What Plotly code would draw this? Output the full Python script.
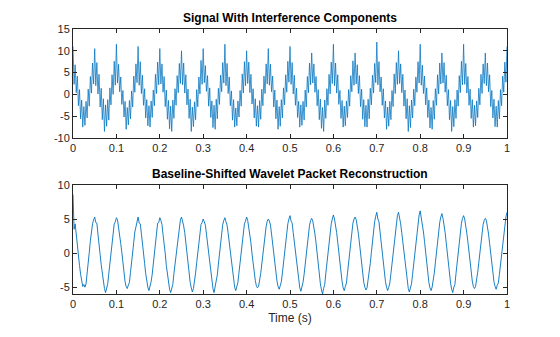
import numpy as np
import plotly.graph_objects as go

# ---- data ----
fs = 400  # samples per second (estimated)
title_top = "Signal With Interference Components"
title_bottom = "Baseline-Shifted Wavelet Packet Reconstruction"
x_label = "Time (s)"
x_ticks = [0, 0.1, 0.2, 0.3, 0.4, 0.5, 0.6, 0.7, 0.8, 0.9, 1]
x_ticklabels = ["0", "0.1", "0.2", "0.3", "0.4", "0.5", "0.6", "0.7", "0.8", "0.9", "1"]
y_ticks_top = [-10, -5, 0, 5, 10, 15]
y_ticks_bottom = [-5, 0, 5, 10]

# noisy signal, one row per 20 Hz cycle (20 samples each), plus final sample
noisy_cycles = [
    [11.0, 2.3, 6.8, 0.4, 4.2, -2.6, 1.1, -5.6, -1.3, -7.5, -2.8, -7.1, -1.6, -5.4, 1.2, -2.7, 4.1, 0.3, 7.2, 2.4],
    [10.5, 2.0, 7.3, 0.1, 4.6, -2.9, 1.4, -5.8, -1.0, -8.5, -2.4, -7.3, -1.2, -5.9, 1.5, -2.4, 4.5, 0.0, 7.6, 2.1],
    [11.5, 2.6, 6.9, 0.6, 4.0, -2.3, 0.9, -5.2, -1.6, -8.0, -3.0, -7.0, -1.4, -5.6, 0.8, -2.9, 4.2, 0.5, 7.0, 2.7],
    [11.0, 2.1, 7.5, 0.2, 4.4, -2.5, 1.3, -5.4, -1.2, -7.2, -2.6, -7.5, -1.5, -5.3, 1.0, -2.6, 4.6, 0.2, 7.4, 2.2],
    [10.5, 2.4, 7.0, 0.5, 4.1, -2.8, 1.0, -5.7, -1.4, -7.9, -2.7, -8.5, -1.3, -5.5, 1.3, -2.5, 4.3, 0.4, 7.1, 2.5],
    [10.0, 2.2, 7.2, 0.3, 4.5, -2.4, 1.2, -5.5, -1.1, -8.5, -2.9, -7.4, -1.7, -5.8, 1.1, -2.8, 4.0, 0.1, 7.8, 2.3],
    [10.5, 2.7, 6.6, 0.7, 4.3, -2.7, 1.5, -5.3, -1.5, -7.6, -2.5, -8.0, -1.1, -5.6, 1.4, -2.3, 4.4, 0.6, 7.3, 2.6],
    [11.5, 2.0, 7.1, 0.2, 4.0, -2.6, 0.8, -5.9, -1.2, -7.5, -3.1, -7.2, -1.5, -5.2, 0.9, -2.7, 4.7, 0.3, 7.5, 2.0],
    [10.0, 2.5, 7.4, 0.4, 4.6, -2.2, 1.3, -5.4, -1.0, -7.3, -2.6, -7.5, -1.4, -5.7, 1.2, -2.6, 4.2, 0.2, 7.0, 2.4],
    [10.5, 2.1, 6.9, 0.6, 4.2, -2.9, 1.0, -5.6, -1.3, -8.0, -2.8, -7.3, -1.2, -5.4, 1.5, -2.4, 4.5, 0.5, 7.6, 2.8],
    [11.0, 2.3, 7.3, 0.1, 4.4, -2.5, 1.4, -5.3, -1.6, -7.5, -2.4, -7.1, -1.6, -5.9, 1.0, -2.9, 4.1, 0.4, 7.2, 2.2],
    [9.5, 2.6, 7.0, 0.5, 4.1, -2.6, 1.1, -5.8, -1.1, -7.8, -3.0, -8.5, -1.3, -5.5, 1.3, -2.5, 4.6, 0.1, 7.4, 2.5],
    [11.5, 2.0, 7.2, 0.3, 4.5, -2.3, 0.9, -5.5, -1.4, -7.5, -2.7, -7.2, -1.5, -5.3, 1.1, -2.7, 4.3, 0.6, 7.7, 2.1],
    [9.5, 2.4, 6.8, 0.2, 4.3, -2.8, 1.2, -5.7, -1.2, -7.4, -2.5, -7.5, -1.1, -5.6, 1.4, -2.4, 4.4, 0.3, 7.1, 2.7],
    [12.0, 2.2, 7.5, 0.6, 4.0, -2.5, 1.3, -5.4, -1.5, -8.0, -2.9, -7.3, -1.6, -5.8, 0.9, -2.8, 4.7, 0.2, 7.3, 2.3],
    [10.0, 2.5, 7.0, 0.4, 4.6, -2.7, 1.0, -5.6, -1.0, -8.5, -2.6, -7.6, -1.3, -5.4, 1.2, -2.6, 4.0, 0.5, 7.5, 2.6],
    [11.5, 2.1, 6.7, 0.2, 4.2, -2.4, 1.5, -5.3, -1.3, -7.7, -3.0, -8.0, -1.4, -5.7, 1.3, -2.5, 4.5, 0.1, 7.2, 2.4],
    [9.5, 2.6, 7.3, 0.5, 4.4, -2.6, 1.1, -5.8, -1.4, -8.5, -2.8, -7.4, -1.2, -5.5, 1.0, -2.7, 4.3, 0.4, 7.6, 2.2],
    [11.5, 2.3, 7.1, 0.3, 4.1, -2.5, 1.2, -5.5, -1.2, -7.5, -2.5, -7.2, -1.5, -5.3, 1.4, -2.4, 4.6, 0.2, 7.0, 2.5],
    [9.5, 2.0, 7.2, 0.6, 4.5, -2.8, 0.9, -5.4, -1.1, -7.4, -2.7, -7.5, -1.4, -5.6, 1.1, -2.6, 4.2, 0.5, 7.4, 2.8],
]
noisy_last = [11.0]

# reconstructed signal, one row per cycle (20 samples each), plus final sample
recon_cycles = [
    [8.6, 3.5, 4.3, 2.5, 1.4, -0.3, -1.8, -3.1, -4.2, -4.9, -4.6, -5.0, -4.5, -3.2, -1.7, 0.1, 1.8, 3.2, 4.3, 4.9],
    [5.3, 4.5, 4.4, 2.8, 1.6, -0.2, -1.7, -3.1, -4.3, -5.2, -5.8, -5.1, -4.5, -3.0, -1.4, 0.2, 1.7, 3.0, 4.3, 4.6],
    [5.2, 4.9, 3.9, 3.1, 1.4, 0.1, -1.6, -2.9, -4.2, -4.9, -5.2, -4.7, -4.3, -2.8, -1.6, 0.0, 1.6, 3.1, 4.0, 4.9],
    [5.3, 4.4, 4.3, 2.9, 1.7, -0.1, -1.5, -3.0, -4.3, -5.0, -5.5, -5.0, -4.2, -3.1, -1.5, 0.1, 1.5, 2.9, 4.4, 4.5],
    [5.2, 4.8, 4.2, 2.7, 1.5, 0.0, -1.8, -3.2, -4.4, -5.3, -5.8, -5.0, -4.6, -3.0, -1.7, -0.1, 1.7, 3.0, 4.1, 4.9],
    [5.3, 4.7, 4.0, 3.0, 1.5, -0.2, -1.6, -3.1, -4.3, -5.1, -5.7, -5.2, -4.2, -2.9, -1.4, 0.1, 1.6, 2.8, 4.2, 4.5],
    [5.0, 4.6, 4.1, 2.8, 1.4, -0.1, -1.7, -3.0, -4.4, -5.2, -5.8, -5.0, -4.5, -3.2, -1.6, 0.0, 1.7, 3.1, 4.2, 4.8],
    [5.2, 4.6, 4.1, 2.9, 1.6, 0.0, -1.5, -3.1, -4.2, -5.0, -5.5, -4.9, -4.3, -2.8, -1.5, 0.2, 1.5, 3.0, 4.3, 4.7],
    [5.3, 4.8, 3.9, 3.0, 1.5, -0.1, -1.6, -2.8, -4.0, -4.8, -5.1, -4.9, -4.1, -3.0, -1.6, 0.0, 1.6, 2.9, 3.9, 4.7],
    [5.0, 4.7, 4.1, 2.8, 1.4, -0.2, -1.7, -3.0, -4.1, -4.9, -5.3, -4.8, -4.2, -2.9, -1.4, 0.1, 1.7, 3.1, 4.3, 5.0],
    [5.5, 4.7, 4.4, 3.0, 1.6, 0.0, -1.6, -3.1, -4.3, -5.1, -5.6, -5.0, -4.3, -3.1, -1.7, -0.1, 1.6, 2.9, 4.1, 4.8],
    [5.1, 4.7, 4.0, 2.8, 1.5, -0.2, -1.8, -3.2, -4.5, -5.4, -6.0, -5.2, -4.6, -3.0, -1.5, 0.1, 1.7, 3.1, 4.3, 5.0],
    [5.6, 5.0, 4.1, 3.0, 1.6, 0.0, -1.6, -3.0, -4.2, -5.1, -5.5, -4.9, -4.4, -2.9, -1.4, 0.2, 1.8, 3.2, 4.4, 5.0],
    [5.3, 4.9, 4.0, 2.9, 1.5, -0.1, -1.7, -3.1, -4.3, -5.0, -5.4, -5.1, -4.1, -3.0, -1.5, 0.1, 1.8, 3.3, 4.6, 5.4],
    [6.0, 5.0, 4.6, 3.1, 1.6, -0.1, -1.7, -3.1, -4.2, -5.0, -5.5, -5.0, -4.4, -3.0, -1.5, 0.2, 1.8, 3.3, 4.7, 5.5],
    [6.0, 5.3, 4.3, 3.0, 1.5, 0.0, -1.6, -3.2, -4.4, -5.2, -5.7, -5.1, -4.5, -3.1, -1.5, 0.1, 1.9, 3.4, 4.8, 5.6],
    [6.2, 5.2, 4.6, 3.1, 1.7, 0.0, -1.6, -3.0, -4.3, -5.1, -5.5, -5.0, -4.2, -2.9, -1.4, 0.2, 1.8, 3.2, 4.5, 5.3],
    [5.8, 5.1, 4.2, 3.0, 1.5, -0.1, -1.8, -3.2, -4.4, -5.3, -5.8, -5.0, -4.6, -3.0, -1.5, 0.1, 1.7, 3.1, 4.4, 5.1],
    [5.5, 5.0, 4.1, 2.9, 1.6, 0.0, -1.5, -2.9, -4.1, -4.9, -5.2, -4.9, -4.0, -2.8, -1.4, 0.1, 1.6, 3.0, 4.2, 4.8],
    [5.1, 4.8, 4.0, 2.8, 1.4, -0.2, -1.7, -3.0, -4.2, -4.9, -5.3, -4.7, -4.4, -3.1, -1.6, 0.0, 1.7, 3.2, 4.5, 5.3],
]
recon_last = [6.0]

noisy = [v for row in noisy_cycles for v in row] + noisy_last
recon = [v for row in recon_cycles for v in row] + recon_last
t = np.arange(len(noisy)) / fs

# ---- styling ----
LINE = "#0072BD"
AX = "#262626"
FONT = "Liberation Sans, Arial, sans-serif"

fig = go.Figure()
fig.add_trace(go.Scatter(x=t, y=noisy, mode="lines", line=dict(color=LINE, width=0.75),
                         xaxis="x", yaxis="y", showlegend=False, hoverinfo="skip"))
fig.add_trace(go.Scatter(x=t, y=recon, mode="lines", line=dict(color=LINE, width=0.9),
                         xaxis="x2", yaxis="y2", showlegend=False, hoverinfo="skip"))

common_axis = dict(showline=True, linecolor=AX, linewidth=1, mirror="ticks",
                   ticks="inside", ticklen=4, tickcolor=AX, tickwidth=1,
                   showgrid=False, zeroline=False,
                   tickfont=dict(family=FONT, size=11, color=AX))

top_dom = [0.5887, 1.0]
bot_dom = [0.0, 0.4113]

fig.update_layout(
    width=560, height=337,
    margin=dict(l=73, r=53, t=29, b=43),
    paper_bgcolor="white", plot_bgcolor="white",
    font=dict(family=FONT, color=AX),
    xaxis=dict(domain=[0, 1], anchor="y", range=[0, 1], tickvals=x_ticks,
               ticktext=x_ticklabels, **common_axis),
    yaxis=dict(domain=top_dom, anchor="x", range=[-10, 15], tickvals=y_ticks_top,
               ticktext=[str(v) for v in y_ticks_top], **common_axis),
    xaxis2=dict(domain=[0, 1], anchor="y2", range=[0, 1], tickvals=x_ticks,
                ticktext=x_ticklabels,
                title=dict(text=x_label, font=dict(family=FONT, size=12, color=AX), standoff=4),
                **common_axis),
    yaxis2=dict(domain=bot_dom, anchor="x2", range=[-6, 10], tickvals=y_ticks_bottom,
                ticktext=[str(v) for v in y_ticks_bottom], **common_axis),
    annotations=[
        dict(text="<b>" + title_top + "</b>", x=0.5, y=top_dom[1], xref="paper", yref="paper",
             xanchor="center", yanchor="bottom", yshift=2, showarrow=False,
             font=dict(family=FONT, size=12, color="black")),
        dict(text="<b>" + title_bottom + "</b>", x=0.5, y=bot_dom[1], xref="paper", yref="paper",
             xanchor="center", yanchor="bottom", yshift=2, showarrow=False,
             font=dict(family=FONT, size=12, color="black")),
    ],
)

fig.write_html("out.html")
